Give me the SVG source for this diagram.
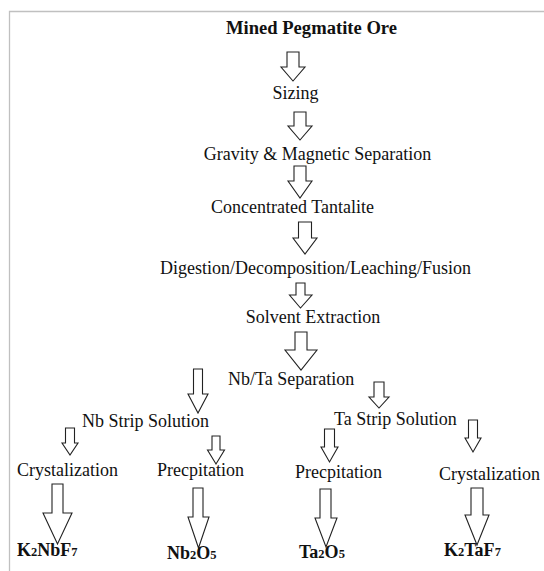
<svg xmlns="http://www.w3.org/2000/svg" width="544" height="571" viewBox="0 0 544 571">
<style>
.t{font-family:"Liberation Serif","Times New Roman",serif;font-size:18px;fill:#111}
.b{font-weight:bold}
.s{font-size:12.5px}
.ar{fill:#fff;stroke:#222;stroke-width:1.1;stroke-linejoin:miter}
.frame{stroke:#c0c0c0;stroke-width:1.3;fill:none}
</style>
<rect width="544" height="571" fill="#fff"/>
<path class="frame" d="M9.5 571 V11.5 H544"/>
<g id="connectors">
<path class="ar" d="M287 52 H299 V67 H305 L293 81 L281 67 H287 Z"/>
<path class="ar" d="M294 112 H306 V126 H312 L300 140 L288 126 H294 Z"/>
<path class="ar" d="M294 166 H306 V181 H312 L300 198 L288 181 H294 Z"/>
<path class="ar" d="M298.5 222 H311.5 V238 H317 L305 254 L293 238 H298.5 Z"/>
<path class="ar" d="M296 283 H305 V295 H312 L300.5 308 L289.5 295 H296 Z"/>
<path class="ar" d="M295 332 H307 V350 H317 L301 370 L285 350 H295 Z"/>
<path class="ar" d="M193.5 369 H202.5 V394 H208 L198 413 L188 394 H193.5 Z"/>
<path class="ar" d="M374 382 H384 V397 H389 L379 408 L369 397 H374 Z"/>
<path class="ar" d="M65.5 428 H74.5 V443 H78 L70 455 L62 443 H65.5 Z"/>
<path class="ar" d="M212 436 H220 V450 H224.5 L216 464 L207.5 450 H212 Z"/>
<path class="ar" d="M324.5 429 H334.5 V447 H338 L329.5 462 L321 447 H324.5 Z"/>
<path class="ar" d="M468.5 420 H477.5 V438 H481 L473 452 L465 438 H468.5 Z"/>
<path class="ar" d="M52 484 H63 V513 H72 L57.5 544 L43 513 H52 Z"/>
<path class="ar" d="M193 488 H203 V517 H209 L198.5 548 L188 517 H193 Z"/>
<path class="ar" d="M320 489 H331 V518 H337 L326 547 L315 518 H320 Z"/>
<path class="ar" d="M471 488 H483 V515 H489 L477 545 L465 515 H471 Z"/>
</g>
<g id="n-mined"><text class="t b" x="311.5" y="34" text-anchor="middle" style="font-size:18.6px">Mined Pegmatite Ore</text></g>
<g id="n-sizing"><text class="t" x="295.5" y="99" text-anchor="middle">Sizing</text></g>
<g id="n-gravity"><text class="t" x="317.5" y="160" text-anchor="middle">Gravity &amp; Magnetic Separation</text></g>
<g id="n-conc"><text class="t" x="292.5" y="213" text-anchor="middle">Concentrated Tantalite</text></g>
<g id="n-digest"><text class="t" x="160" y="274">Digestion/Decomposition/Leaching/Fusion</text></g>
<g id="n-solvent"><text class="t" x="313" y="323" text-anchor="middle">Solvent Extraction</text></g>
<g id="n-nbta"><text class="t" x="228" y="385">Nb/Ta Separation</text></g>
<g id="n-nbstrip"><text class="t" x="82" y="427">Nb Strip Solution</text></g>
<g id="n-tastrip"><text class="t" x="334" y="425">Ta Strip Solution</text></g>
<g id="n-cryst-l"><text class="t" x="17" y="476">Crystalization</text></g>
<g id="n-prec-l"><text class="t" x="157" y="476">Precpitation</text></g>
<g id="n-prec-r"><text class="t" x="295" y="478">Precpitation</text></g>
<g id="n-cryst-r"><text class="t" x="439" y="480">Crystalization</text></g>
<g id="n-k2nbf7"><text class="t b" x="17" y="556">K<tspan class="s">2</tspan>NbF<tspan class="s">7</tspan></text></g>
<g id="n-nb2o5"><text class="t b" x="167" y="559">Nb<tspan class="s">2</tspan>O<tspan class="s">5</tspan></text></g>
<g id="n-ta2o5"><text class="t b" x="299" y="558">Ta<tspan class="s">2</tspan>O<tspan class="s">5</tspan></text></g>
<g id="n-k2taf7"><text class="t b" x="444" y="556">K<tspan class="s">2</tspan>TaF<tspan class="s">7</tspan></text></g>
</svg>
